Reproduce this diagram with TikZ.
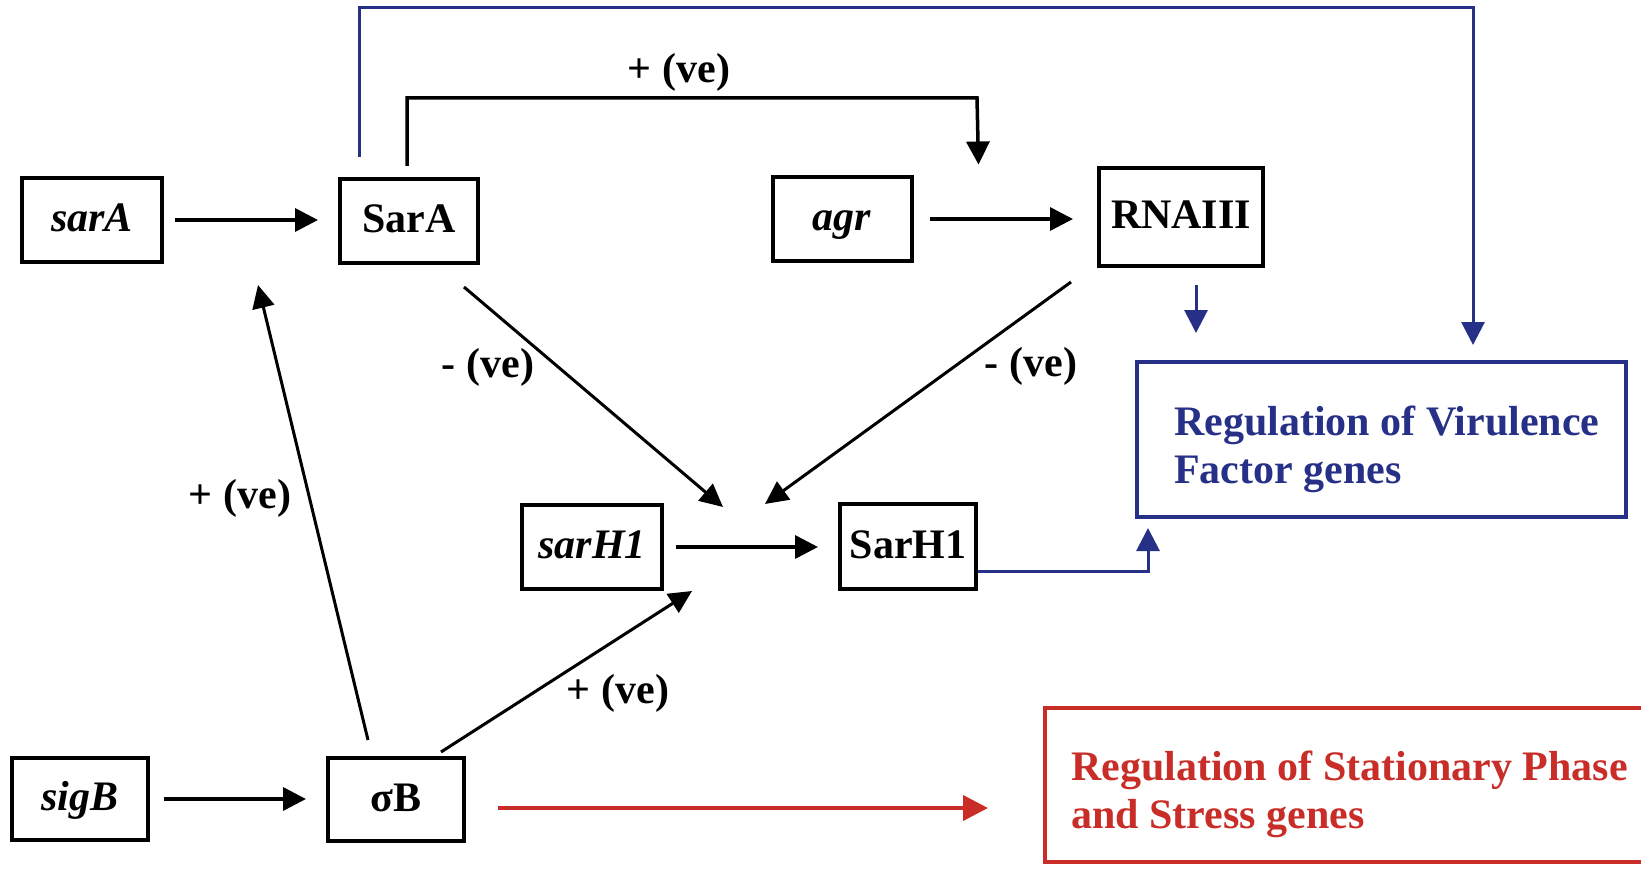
\documentclass[tikz,border=0pt]{standalone}
\usepackage{fontspec}
\setmainfont{Liberation Serif}
\usetikzlibrary{arrows.meta,calc}
\definecolor{vblue}{RGB}{38,48,135}
\definecolor{sred}{RGB}{200,45,40}
\begin{document}
\begin{tikzpicture}[x=1pt,y=-1pt,
  txt/.style={font=\fontsize{42}{48}\selectfont\bfseries},
  gene/.style={draw, line width=4pt, inner sep=0pt, txt,
               text height=29pt, text depth=6pt},
  lbl/.style={txt, inner sep=0pt},
  arr/.style={line width=3.5pt, -{Triangle[length=23pt,width=23pt]}},
  darr/.style={line width=3pt, -{Triangle[length=23pt,width=22pt]}},
  barr/.style={vblue, line width=3pt, -{Triangle[length=23pt,width=23pt]}},
  rarr/.style={sred, line width=4pt, -{Triangle[length=25pt,width=25pt]}},
  outbox/.style={draw, line width=4pt, inner sep=0pt},
]
\clip (0,0) rectangle (1641,869);
\fill[white] (0,0) rectangle (1641,869);

% gene / protein boxes
\node[gene, minimum width=140pt, minimum height=83pt] (sarA)   at (92,220)    {\textit{sarA}};
\node[gene, minimum width=138pt, minimum height=84pt] (SarA)   at (409,221)   {SarA};
\node[gene, minimum width=139pt, minimum height=83pt] (agr)    at (842,219)   {\textit{agr}};
\node[gene, minimum width=164pt, minimum height=98pt] (RNAIII) at (1181,217)  {RNAIII};
\node[gene, minimum width=140pt, minimum height=84pt] (sarH1)  at (592,547)   {\textit{sarH1}};
\node[gene, minimum width=136pt, minimum height=85pt] (SarH1)  at (908,546.5) {SarH1};
\node[gene, minimum width=136pt, minimum height=82pt] (sigB)   at (80,799)    {\textit{sigB}};
\node[gene, minimum width=136pt, minimum height=83pt] (sB)     at (396,799.5) {σB};

% target boxes (the text is anchored at the baseline of its last line)
\node[outbox, vblue, minimum width=489pt, minimum height=155pt] (vir)    at (1381.5,439.5) {};
\node[txt, vblue, anchor=base west, align=left, inner sep=0pt] (virtext) at (1174,483)
  {Regulation of Virulence\\Factor genes};
\node[outbox, sred, minimum width=615pt, minimum height=154pt] (stress) at (1352.5,785) {};
\node[txt, sred, anchor=base west, align=left, inner sep=0pt] (stresstext) at (1071,828)
  {Regulation of Stationary Phase\\and Stress genes};

% transcription / translation arrows
\draw[arr, shorten <=11pt, shorten >=20pt] (sarA.east) -- (sarA.east -| SarA.west);
\draw[arr, shorten <=16pt, shorten >=24pt] (agr.east) -- (agr.east -| RNAIII.west);
\draw[arr, shorten <=12pt, shorten >=20pt] (sarH1.east) -- (sarH1.east -| SarH1.west);
\draw[arr, shorten <=14pt, shorten >=20pt] (sigB.east) -- (sigB.east -| sB.west);

% regulatory arrows into sarH1
\coordinate (jA) at (723,507);
\coordinate (jR) at (765,504);
\draw[darr] ([xshift=55pt,yshift=-22pt]SarA.south) -- (jA);
\draw[darr] ([xshift=-110pt,yshift=-14pt]RNAIII.south) -- (jR);
\draw[darr] ([xshift=-25pt,yshift=4pt]sB.north east) -- ([xshift=28pt]sarH1.south east);
\draw[darr] ([xshift=-28pt,yshift=16pt]sB.north) -- ([xshift=-151pt,yshift=-20pt]SarA.south);

% SarA activates agr
\coordinate (agrTop) at (977,98);
\draw[arr] ([xshift=-2pt,yshift=11pt]SarA.north) |- (agrTop)
  -- ([xshift=65pt,yshift=11pt]agr.north east);

% virulence regulation (blue)
\coordinate (virTop) at (1473,8);
\draw[barr] ([xshift=-50pt,yshift=20pt]SarA.north) |- (virTop)
  -- ([xshift=91.5pt,yshift=15pt]vir.north);
\draw[barr] ([xshift=15pt,yshift=-17pt]RNAIII.south) -- ([xshift=-185.5pt,yshift=27pt]vir.north);
\draw[barr] ([yshift=-24.5pt]SarH1.east) -| ([xshift=13pt,yshift=-9pt]vir.south west);

% stress regulation (red)
\draw[rarr] ([xshift=32pt,yshift=-8.5pt]sB.east) -- ([xshift=-55pt,yshift=-23pt]stress.west);

% edge labels
\node[lbl] (lTop)   at (679,72)  {+ (ve)};
\node[lbl] (lSarA)  at (488,367) {- (ve)};
\node[lbl] (lRNA)   at (1031,366){- (ve)};
\node[lbl] (lSigA)  at (240,498) {+ (ve)};
\node[lbl] (lSigH)  at (618,693) {+ (ve)};
\end{tikzpicture}
\end{document}
